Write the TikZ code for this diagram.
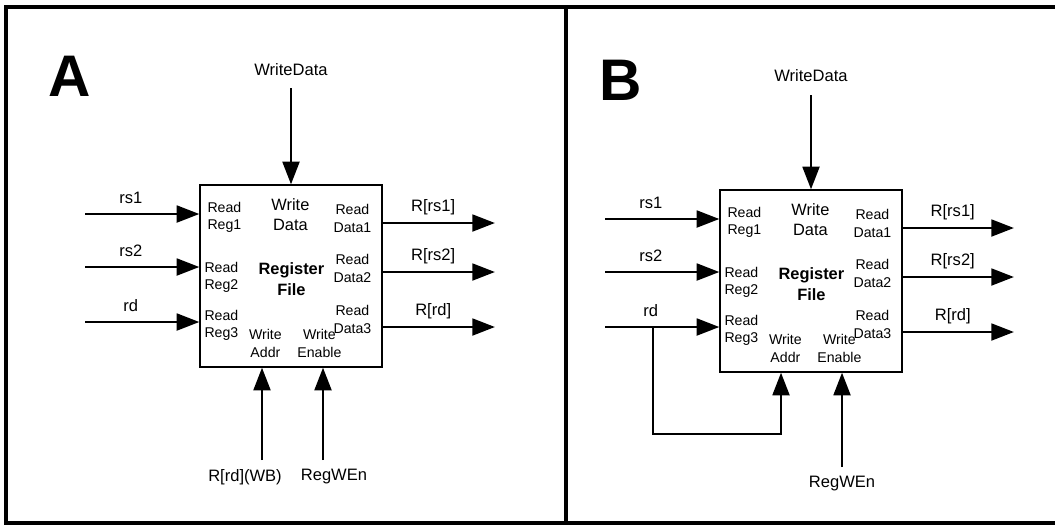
\documentclass[tikz,border=0pt]{standalone}
\usepackage{fontspec}
\setmainfont{Liberation Sans}
\usepackage{tikz}
\usetikzlibrary{arrows.meta, positioning, calc}
\newcommand{\rfports}[1]{%
  \node[port] (#1-rr1) at ($(#1-rf.north west)+(25,33)$) {Read\\Reg1};
  \node[port, font=\fontsize{12.3}{15}\selectfont] (#1-wdp) at ($(#1-rf.north west)+(91,30)$) {Write\\Data};
  \node[port] (#1-rd1) at ($(#1-rf.north west)+(153,34)$) {Read\\Data1};
  \node[port] (#1-rr2) at ($(#1-rf.north west)+(22,93)$) {Read\\Reg2};
  \node[port, font=\fontsize{12.3}{15.5}\selectfont\bfseries] (#1-name) at ($(#1-rf.north west)+(92,95)$) {Register\\File};
  \node[port] (#1-rd2) at ($(#1-rf.north west)+(153,84)$) {Read\\Data2};
  \node[port] (#1-rr3) at ($(#1-rf.north west)+(22,141)$) {Read\\Reg3};
  \node[port] (#1-wap) at ($(#1-rf.north west)+(66,159)$) {Write\\Addr};
  \node[port] (#1-wep) at ($(#1-rf.north west)+(120,159)$) {Write\\Enable};
  \node[port] (#1-rd3) at ($(#1-rf.north west)+(153,135)$) {Read\\Data3};
}

\begin{document}
\begin{tikzpicture}[
  x=0.75pt, y=-0.75pt,
  box/.style={draw, line width=0.9pt, minimum width=136.5pt,
              minimum height=136.5pt, inner sep=0pt},
  port/.style={align=center, inner sep=0pt,
               font=\fontsize{10.6}{12.9}\selectfont},
  lbl/.style={font=\fontsize{12.4}{15}\selectfont},
  tag/.style={font=\fontsize{44}{44}\selectfont\bfseries},
  arr/.style={-{Triangle[length=17pt,width=12.5pt]}, line width=2.2pt},
  frame/.style={line width=3pt}
]
\useasboundingbox (0,0) rectangle (1055,526);
\draw[frame] (1055,7) -- (6,7) -- (6,523) -- (1055,523);
\draw[frame] (566,7) -- (566,523);

% panel A
\node[tag] (A-tag) at (70,76) {A};
\node[box] (A-rf) at (291,276) {};
\rfports{A}
\node[lbl] (A-wd) at (291,70) {WriteData};
\coordinate (A-wdin) at (291,88);
\draw[arr] (A-wdin) -- (A-rf.north);
\coordinate (A-in1) at (85,214);
\coordinate (A-in2) at (85,267);
\coordinate (A-in3) at (85,322);
\draw[arr] (A-in1) -- node[lbl, above=3pt, pos=0.4] (A-rs1) {rs1} (A-in1 -| A-rf.west);
\draw[arr] (A-in2) -- node[lbl, above=3pt, pos=0.4] (A-rs2) {rs2} (A-in2 -| A-rf.west);
\draw[arr] (A-in3) -- node[lbl, above=3pt, pos=0.4] (A-rd) {rd} (A-in3 -| A-rf.west);
\coordinate (A-out1) at (495,223);
\coordinate (A-out2) at (495,272);
\coordinate (A-out3) at (495,327);
\draw[arr] (A-out1 -| A-rf.east) -- node[lbl, above=2pt, pos=0.45] (A-r1) {R[rs1]} (A-out1);
\draw[arr] (A-out2 -| A-rf.east) -- node[lbl, above=2pt, pos=0.45] (A-r2) {R[rs2]} (A-out2);
\draw[arr] (A-out3 -| A-rf.east) -- node[lbl, above=2pt, pos=0.45] (A-r3) {R[rd]} (A-out3);
\coordinate (A-wain) at (262,460);
\coordinate (A-wein) at (323,460);
\draw[arr] (A-wain) -- (A-wain |- A-rf.south);
\draw[arr] (A-wein) -- (A-wein |- A-rf.south);
\node[lbl] (A-wb) at (245,477) {R[rd](WB)};
\node[lbl] (A-en) at (334,477) {RegWEn};

% panel B
\node[tag] (B-tag) at (621,80) {B};
\node[box] (B-rf) at (811,281) {};
\rfports{B}
\node[lbl] (B-wd) at (811,76) {WriteData};
\coordinate (B-wdin) at (811,95);
\draw[arr] (B-wdin) -- (B-rf.north);
\coordinate (B-in1) at (605,219);
\coordinate (B-in2) at (605,272);
\coordinate (B-in3) at (605,327);
\draw[arr] (B-in1) -- node[lbl, above=3pt, pos=0.4] (B-rs1) {rs1} (B-in1 -| B-rf.west);
\draw[arr] (B-in2) -- node[lbl, above=3pt, pos=0.4] (B-rs2) {rs2} (B-in2 -| B-rf.west);
\draw[arr] (B-in3) -- node[lbl, above=3pt, pos=0.4] (B-rd) {rd} (B-in3 -| B-rf.west);
\coordinate (B-out1) at (1014,228);
\coordinate (B-out2) at (1014,277);
\coordinate (B-out3) at (1014,332);
\draw[arr] (B-out1 -| B-rf.east) -- node[lbl, above=2pt, pos=0.45] (B-r1) {R[rs1]} (B-out1);
\draw[arr] (B-out2 -| B-rf.east) -- node[lbl, above=2pt, pos=0.45] (B-r2) {R[rs2]} (B-out2);
\draw[arr] (B-out3 -| B-rf.east) -- node[lbl, above=2pt, pos=0.45] (B-r3) {R[rd]} (B-out3);
\coordinate (B-br) at (653,327);
\coordinate (B-wain) at (781,434);
\coordinate (B-wein) at (842,467);
\draw[arr] (B-br) |- (B-wain) -- (B-wain |- B-rf.south);
\draw[arr] (B-wein) -- (B-wein |- B-rf.south);
\node[lbl] (B-en) at (842,484) {RegWEn};

\end{tikzpicture}
\end{document}
